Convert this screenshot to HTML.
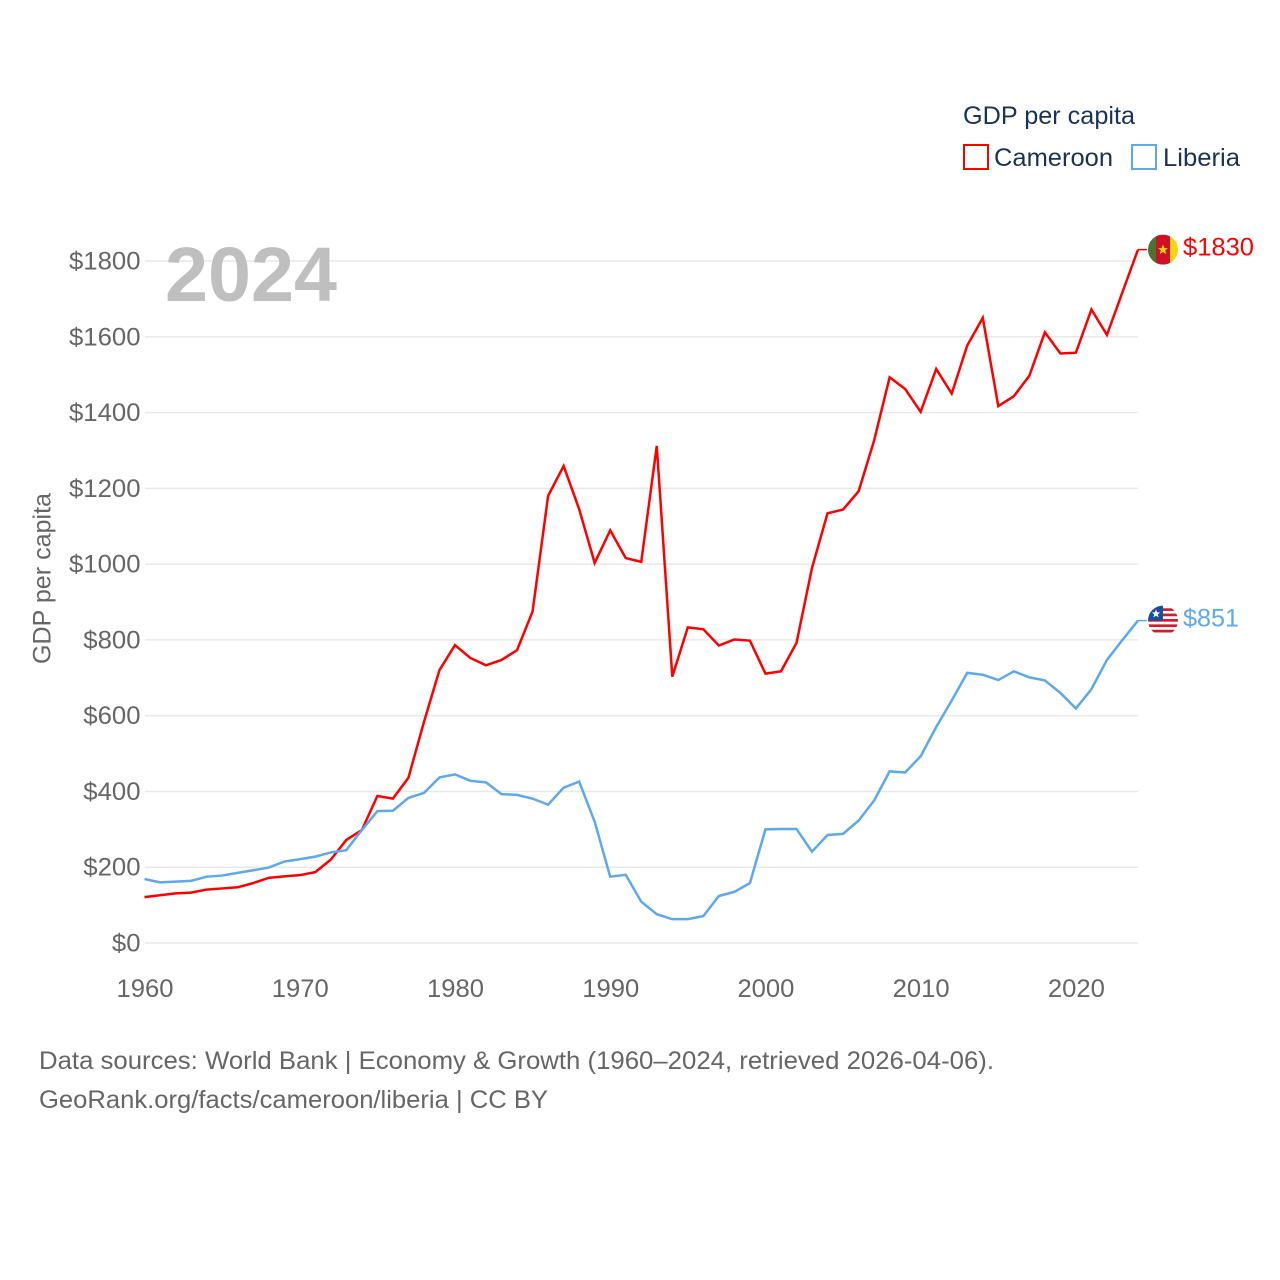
<!DOCTYPE html>
<html lang="en">
<head>
<meta charset="utf-8">
<title>GDP per capita: Cameroon and Liberia</title>
<style>
html,body{margin:0;padding:0;background:#fff;}
svg{display:block;font-family:"Liberation Sans",sans-serif;}
</style>
</head>
<body>
<svg id="chart" xmlns="http://www.w3.org/2000/svg" width="1280" height="1280" viewBox="0 0 1280 1280">
  <rect width="1280" height="1280" fill="#ffffff"/>
  <defs>
    <clipPath id="flag-clip-a"><circle cx="0" cy="0" r="15"/></clipPath>
  </defs>
  <g id="grid"></g>
  <g id="y-ticks"></g>
  <g id="x-ticks"></g>
  <text x="165" y="301" font-size="77" font-weight="700" fill="#bfbfbf" textLength="172" lengthAdjust="spacingAndGlyphs">2024</text>
  <text transform="translate(50.5,664) rotate(-90)" font-size="25" fill="#666666" textLength="171" lengthAdjust="spacingAndGlyphs">GDP per capita</text>
  <g id="series"></g>
  <g id="flag-cameroon">
    <g clip-path="url(#flag-clip-a)">
      <rect x="-15" y="-15" width="8" height="30" fill="#4f7233"/>
      <rect x="-7" y="-15" width="14" height="30" fill="#ce1126"/>
      <rect x="7" y="-15" width="8" height="30" fill="#fcd116"/>
      <polygon points="0,-5 1.5,-1.5 5,-1.5 2.2,0.8 3.2,4.5 0,2.4 -3.2,4.5 -2.2,0.8 -5,-1.5 -1.5,-1.5" fill="#fcd116"/>
    </g>
  </g>
  <g id="flag-liberia">
    <g clip-path="url(#flag-clip-a)">
      <rect x="-15" y="-15" width="30" height="30" fill="#ffffff"/>
      <rect x="-15" y="-12.3" width="30" height="2.7" fill="#d01c2f"/>
      <rect x="-15" y="-7" width="30" height="2.7" fill="#d01c2f"/>
      <rect x="-15" y="-1.6" width="30" height="2.7" fill="#d01c2f"/>
      <rect x="-15" y="3.8" width="30" height="2.7" fill="#d01c2f"/>
      <rect x="-15" y="9.2" width="30" height="2.7" fill="#d01c2f"/>
      <rect x="-15" y="-15" width="15" height="15" fill="#1a4f9c"/>
      <polygon points="-7,-11 -5.8,-8.2 -2.9,-8.2 -5.2,-6.2 -4.4,-3.2 -7,-4.9 -9.6,-3.2 -8.8,-6.2 -11.1,-8.2 -8.2,-8.2" fill="#ffffff"/>
    </g>
  </g>
  <text id="label-cameroon" font-size="25" fill="#ff0000" lengthAdjust="spacingAndGlyphs" textLength="71"></text>
  <text id="label-liberia" font-size="25" fill="#5ea8ed" lengthAdjust="spacingAndGlyphs" textLength="56"></text>
  <g>
    <text x="963" y="124" font-size="25" fill="#1a3354" textLength="172" lengthAdjust="spacingAndGlyphs">GDP per capita</text>
    <g>
      <rect x="964" y="145" width="24" height="24" fill="none" stroke="#ff0000" stroke-width="2"/>
      <text x="994" y="166" font-size="25" fill="#1a3354" textLength="119" lengthAdjust="spacingAndGlyphs">Cameroon</text>
    </g>
    <g>
      <rect x="1132" y="145" width="24" height="24" fill="none" stroke="#5ea8ed" stroke-width="2"/>
      <text x="1163" y="166" font-size="25" fill="#1a3354" textLength="77" lengthAdjust="spacingAndGlyphs">Liberia</text>
    </g>
  </g>
  <text x="39" y="1069" font-size="25" fill="#666666" textLength="955" lengthAdjust="spacingAndGlyphs">Data sources: World Bank | Economy &amp; Growth (1960–2024, retrieved 2026-04-06).</text>
  <text x="39" y="1108" font-size="25" fill="#666666" textLength="509" lengthAdjust="spacingAndGlyphs">GeoRank.org/facts/cameroon/liberia | CC BY</text>
</svg>
<script>
const years = [1960,1961,1962,1963,1964,1965,1966,1967,1968,1969,1970,1971,1972,1973,1974,1975,1976,1977,1978,1979,1980,1981,1982,1983,1984,1985,1986,1987,1988,1989,1990,1991,1992,1993,1994,1995,1996,1997,1998,1999,2000,2001,2002,2003,2004,2005,2006,2007,2008,2009,2010,2011,2012,2013,2014,2015,2016,2017,2018,2019,2020,2021,2022,2023,2024];
const cameroonValues = [121,126,131,133,141,144,147,158,172,176,179,187,220,272,298,388,381,436,583,720,786,752,733,747,773,875,1180,1259,1145,1003,1089,1016,1006,1312,703,833,828,785,801,798,711,717,792,990,1134,1144,1192,1326,1493,1462,1402,1515,1450,1577,1650,1417,1443,1497,1612,1556,1558,1672,1605,1718,1830];
const liberiaValues = [169,160,162,164,175,178,185,192,199,215,221,228,239,245,298,348,349,383,396,437,445,428,424,393,391,381,365,410,426,320,175,180,109,76,63,63,71,124,135,158,300,301,301,241,285,288,323,376,453,450,493,570,640,713,708,694,717,701,693,660,619,670,747,800,851];
const yTickValues = [0,200,400,600,800,1000,1200,1400,1600,1800];
const xTickYears = [1960,1970,1980,1990,2000,2010,2020];

const NS = 'http://www.w3.org/2000/svg';
const xScale = function (year) { return 144.5 + (year - 1960) * (993.5 / 64); };
const yScale = function (value) { return 943 - value * (682 / 1800); };
const make = function (tag, parent) {
  const node = document.createElementNS(NS, tag);
  parent.appendChild(node);
  return node;
};

const gridGroup = document.getElementById('grid');
const yTickGroup = document.getElementById('y-ticks');
const xTickGroup = document.getElementById('x-ticks');
const seriesGroup = document.getElementById('series');

yTickValues.forEach(function (value) {
  const line = make('line', gridGroup);
  
  
  line.setAttribute('x1', 145);
  line.setAttribute('x2', 1138);
  line.setAttribute('y1', yScale(value));
  line.setAttribute('y2', yScale(value));
  line.setAttribute('stroke', '#e9e9e9');
  line.setAttribute('stroke-width', 1.5);

  const label = make('text', yTickGroup);
  
  
  label.setAttribute('x', 140.5);
  label.setAttribute('y', yScale(value) + 8.5);
  label.setAttribute('text-anchor', 'end');
  label.setAttribute('font-size', 25);
  label.setAttribute('fill', '#666666');
  label.setAttribute('textLength', 14.3 * String('$' + value).length);
  label.setAttribute('lengthAdjust', 'spacingAndGlyphs');
  label.textContent = '$' + value;
});

xTickYears.forEach(function (year) {
  const label = make('text', xTickGroup);
  
  
  label.setAttribute('x', xScale(year) + 0.5);
  label.setAttribute('y', 997);
  label.setAttribute('text-anchor', 'middle');
  label.setAttribute('font-size', 25);
  label.setAttribute('fill', '#666666');
  label.setAttribute('textLength', 57);
  label.setAttribute('lengthAdjust', 'spacingAndGlyphs');
  label.textContent = String(year);
});

const drawSeries = function (values, colour, seriesName) {
  const points = values.map(function (value, i) {
    return xScale(years[i]).toFixed(2) + ',' + yScale(value).toFixed(2);
  });
  const line = make('polyline', seriesGroup);
  
  
  line.setAttribute('points', points.join(' '));
  line.setAttribute('fill', 'none');
  line.setAttribute('stroke', colour);
  line.setAttribute('stroke-width', 2.5);
  line.setAttribute('stroke-linejoin', 'miter');

  const lastX = xScale(years[years.length - 1]);
  const lastY = yScale(values[values.length - 1]);
  const connector = make('line', seriesGroup);
  
  
  connector.setAttribute('x1', lastX);
  connector.setAttribute('x2', lastX + 9);
  connector.setAttribute('y1', lastY);
  connector.setAttribute('y2', lastY);
  connector.setAttribute('stroke', colour);
  connector.setAttribute('stroke-width', 1.5);

  document.getElementById('flag-' + seriesName).setAttribute('transform', 'translate(1163,' + lastY + ')');
  const label = document.getElementById('label-' + seriesName);
  label.setAttribute('x', 1183);
  label.setAttribute('y', lastY + 6);
  label.textContent = '$' + values[values.length - 1];
};

drawSeries(cameroonValues, '#ff0000', 'cameroon');
drawSeries(liberiaValues, '#5ea8ed', 'liberia');
</script>
</body>
</html>
